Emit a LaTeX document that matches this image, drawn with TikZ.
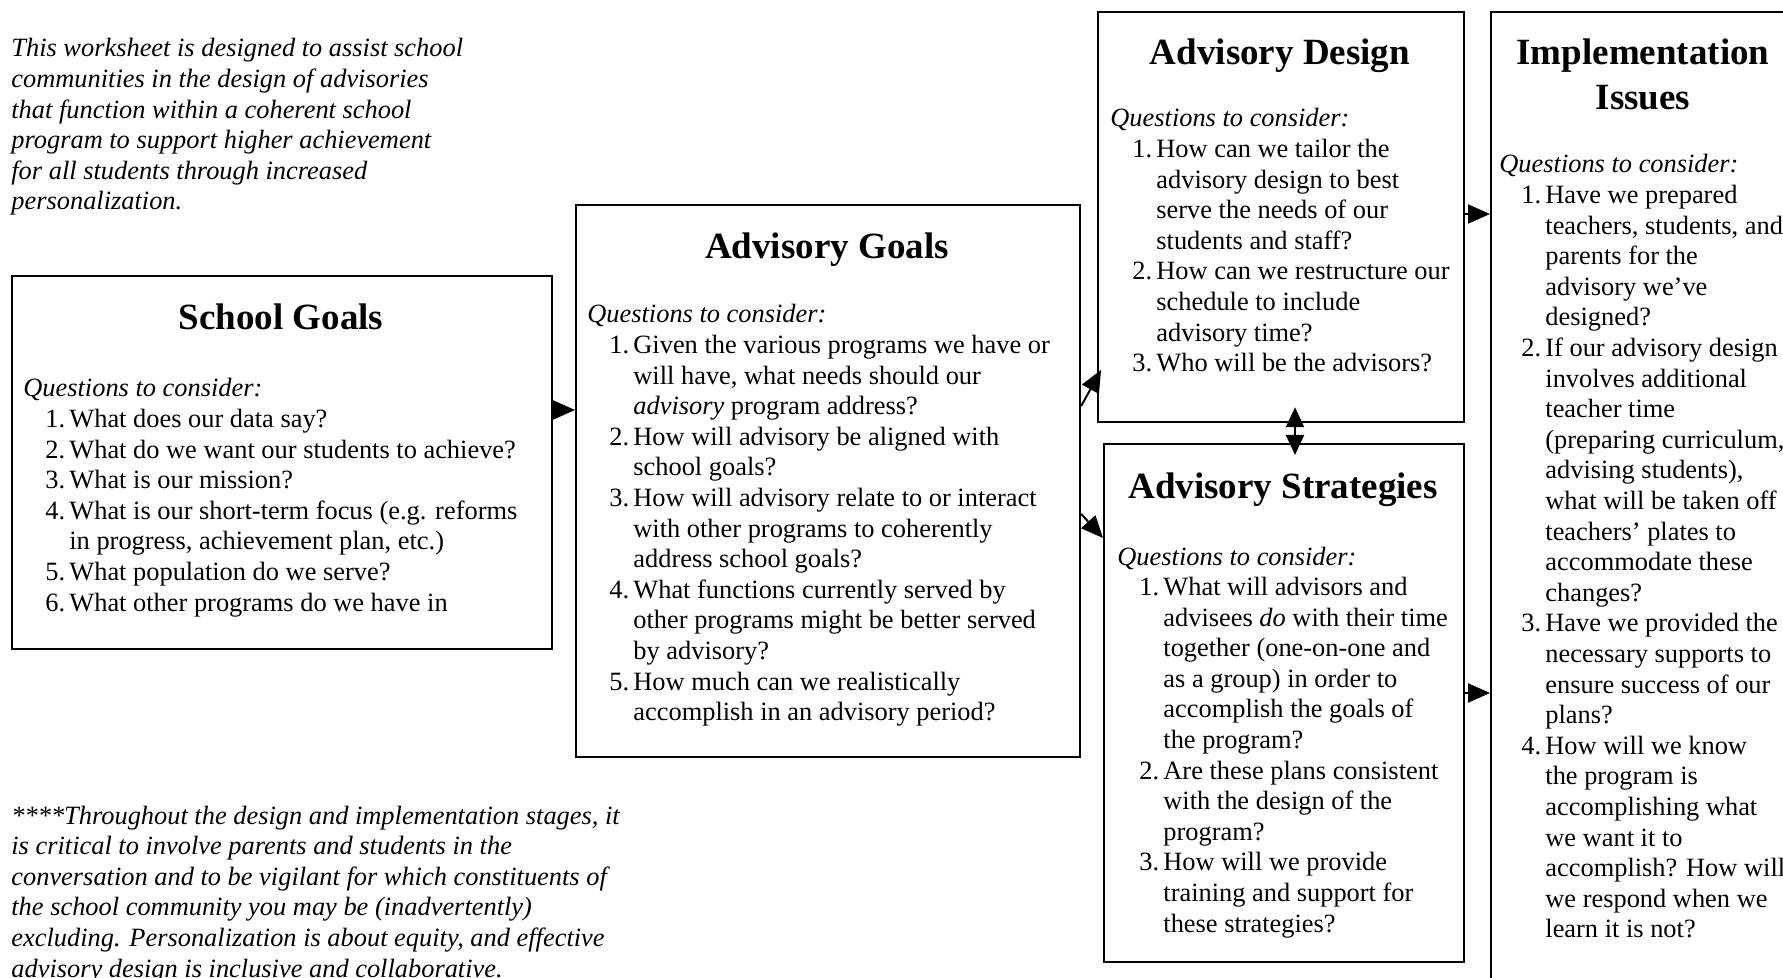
\documentclass[tikz,border=0pt]{standalone}
\usepackage{fontspec}
\setmainfont{Liberation Serif}
\usetikzlibrary{arrows.meta}
\newcommand\bodyfont{\fontsize{13.2pt}{15.3pt}\selectfont}
\newcommand\ttlfont{\fontsize{18.5pt}{22pt}\selectfont\bfseries}
\newcommand\qi[2]{\hbox{\hspace*{11pt}\makebox[12pt][l]{#1.}#2}}
\newcommand\qc[1]{\hbox{\hspace*{23pt}#1}}
\newcommand\qh{\hbox{\itshape Questions to consider:}}
\newcommand\tline[1]{\hbox{#1}}
\begin{document}
\begin{tikzpicture}[x=0.5pt,y=-0.5pt,
  box/.style={draw, line width=1.1pt, inner sep=0, anchor=north west},
  ttl/.style={font=\ttlfont, anchor=base, inner sep=0},
  txt/.style={font=\bodyfont, anchor=base west, inner sep=0},
  arr/.style={line width=1pt, -{Triangle[length=11pt,width=9.5pt]}},
  darr/.style={line width=1pt, {Triangle[length=10pt,width=9pt]}-{Triangle[length=10pt,width=9pt]}}]
\path[use as bounding box] (0,0) rectangle (1783,978);
\clip (0,0) rectangle (1783,978);

% boxes
\node[box, minimum width=270pt, minimum height=186.5pt] (sg) at (11,275) {};
\node[box, minimum width=252pt, minimum height=276pt] (ag) at (575,204) {};
\node[box, minimum width=183pt, minimum height=205pt] (ad) at (1097,11) {};
\node[box, minimum width=180pt, minimum height=259pt] (as) at (1103,443) {};
\node[box, minimum width=160pt, minimum height=520pt] (ii) at (1490,11) {};

% intro
\node[txt, font=\bodyfont\itshape] (intro) at (11,57) {\vtop{%
\tline{This worksheet is designed to assist school}
\tline{communities in the design of advisories}
\tline{that function within a coherent school}
\tline{program to support higher achievement}
\tline{for all students through increased}
\tline{personalization.}}};

% footnote
\node[txt, font=\bodyfont\itshape] (foot) at (11,824) {\vtop{%
\tline{****Throughout the design and implementation stages, it}
\tline{is critical to involve parents and students in the}
\tline{conversation and to be vigilant for which constituents of}
\tline{the school community you may be (inadvertently)}
\tline{excluding. Personalization is about equity, and effective}
\tline{advisory design is inclusive and collaborative.}}};

% titles
\node[ttl] (sgt) at (281,330) {School Goals};
\node[ttl] (agt) at (827,259) {Advisory Goals};
\node[ttl] (adt) at (1280,65) {Advisory Design};
\node[ttl] (ast) at (1283,499) {Advisory Strategies};
\node[ttl] (iit1) at (1643,65) {Implementation};
\node[ttl] (iit2) at (1643,110) {Issues};

% School Goals
\node[txt] (sgq) at (23,397) {\vtop{%
\qh
\qi{1}{What does our data say?}
\qi{2}{What do we want our students to achieve?}
\qi{3}{What is our mission?}
\qi{4}{What is our short-term focus (e.g. reforms}
\qc{in progress, achievement plan, etc.)}
\qi{5}{What population do we serve?}
\qi{6}{What other programs do we have in}}};

% Advisory Goals
\node[txt] (agq) at (587,323) {\vtop{%
\qh
\qi{1}{Given the various programs we have or}
\qc{will have, what needs should our}
\qc{\textit{advisory} program address?}
\qi{2}{How will advisory be aligned with}
\qc{school goals?}
\qi{3}{How will advisory relate to or interact}
\qc{with other programs to coherently}
\qc{address school goals?}
\qi{4}{What functions currently served by}
\qc{other programs might be better served}
\qc{by advisory?}
\qi{5}{How much can we realistically}
\qc{accomplish in an advisory period?}}};

% Advisory Design
\node[txt] (adq) at (1110,127) {\vtop{%
\qh
\qi{1}{How can we tailor the}
\qc{advisory design to best}
\qc{serve the needs of our}
\qc{students and staff?}
\qi{2}{How can we restructure our}
\qc{schedule to include}
\qc{advisory time?}
\qi{3}{Who will be the advisors?}}};

% Advisory Strategies
\node[txt] (asq) at (1117,565) {\vtop{%
\qh
\qi{1}{What will advisors and}
\qc{advisees \textit{do} with their time}
\qc{together (one-on-one and}
\qc{as a group) in order to}
\qc{accomplish the goals of}
\qc{the program?}
\qi{2}{Are these plans consistent}
\qc{with the design of the}
\qc{program?}
\qi{3}{How will we provide}
\qc{training and support for}
\qc{these strategies?}}};

% Implementation Issues
\node[txt] (iiq) at (1499,173) {\vtop{%
\qh
\qi{1}{Have we prepared}
\qc{teachers, students, and}
\qc{parents for the}
\qc{advisory we’ve}
\qc{designed?}
\qi{2}{If our advisory design}
\qc{involves additional}
\qc{teacher time}
\qc{(preparing curriculum,}
\qc{advising students),}
\qc{what will be taken off}
\qc{teachers’ plates to}
\qc{accommodate these}
\qc{changes?}
\qi{3}{Have we provided the}
\qc{necessary supports to}
\qc{ensure success of our}
\qc{plans?}
\qi{4}{How will we know}
\qc{the program is}
\qc{accomplishing what}
\qc{we want it to}
\qc{accomplish? How will}
\qc{we respond when we}
\qc{learn it is not?}}};

% connectors
\coordinate (dtop) at ([yshift=8pt]ad.south -| 1295,0);
\coordinate (dbot) at ([yshift=-6pt]as.north -| 1295,0);
\draw[arr] (sg.east |- 0,410) -- (ag.west |- 0,410);
\draw[arr] (ag.east |- 0,406) -- ([xshift=2pt]ad.west |- 0,370);
\draw[arr] (ag.east |- 0,514) -- (as.west |- 0,538);
\draw[darr] (dtop) -- (dbot);
\draw[arr] (ad.east |- 0,214) -- (ii.west |- 0,214);
\draw[arr] (as.east |- 0,693) -- (ii.west |- 0,693);
\end{tikzpicture}
\end{document}
